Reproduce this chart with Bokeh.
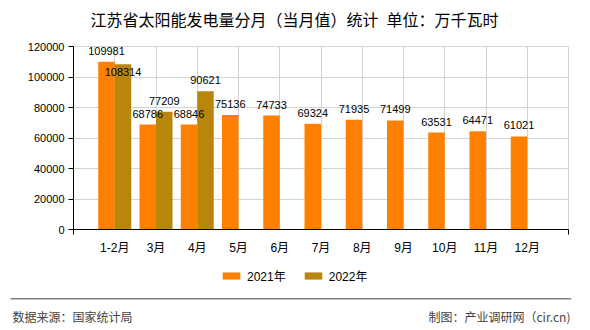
import numpy as np
from bokeh.plotting import figure
from bokeh.layouts import column
from bokeh.models import (ColumnDataSource, Range1d, FixedTicker, Legend, LegendItem)
from bokeh.core.properties import value
from bokeh.embed import file_html
from bokeh.resources import INLINE

# ---- data ----
months = ["1-2月", "3月", "4月", "5月", "6月", "7月", "8月", "9月", "10月", "11月", "12月"]
vals_2021 = [109981, 68786, 68846, 75136, 74733, 69324, 71935, 71499, 63531, 64471, 61021]
vals_2022 = [108314, 77209, 90621]
series_names = ["2021年", "2022年"]
y_ticks = [0, 20000, 40000, 60000, 80000, 100000, 120000]

title_text = "江苏省太阳能发电量分月（当月值）统计\u2002单位：万千瓦时"
source_text = "数据来源：国家统计局"
credit_text = "制图：产业调研网（cir.cn)"

C2021 = "#FF8000"
C2022 = "#B8860B"
NUM_FONT = "'Liberation Sans', 'Noto Sans CJK SC'"
CJK_FONT = "'Noto Sans CJK SC'"

W = 590
H_HEAD = 36
H_MAIN = 224
H_FOOT = 70

pos = np.arange(1, len(months) + 1)
bw = 0.4
x21 = pos - bw / 2
x22 = pos[:len(vals_2022)] + bw / 2

# label offsets: move a 2022 label below its bar top if it collides with the 2021 label
px_per_unit = 183.3 / 120000
off21 = [-7] * len(vals_2021)
off22 = [12 if abs(v - vals_2021[i]) * px_per_unit < 12 else -7 for i, v in enumerate(vals_2022)]

s21 = ColumnDataSource(dict(x=x21, top=vals_2021, lab=[str(v) for v in vals_2021], off=off21))
s22 = ColumnDataSource(dict(x=x22, top=vals_2022, lab=[str(v) for v in vals_2022], off=off22))


def blank_fig(h):
    b = figure(width=W, height=h, output_backend="svg", toolbar_location=None,
               x_range=Range1d(0, W), y_range=Range1d(h, 0),
               x_axis_type=None, y_axis_type=None, frame_align=False, title=None,
               min_border_left=0, min_border_right=0, min_border_top=0, min_border_bottom=0)
    b.outline_line_color = None
    b.background_fill_color = "white"
    b.border_fill_color = "white"
    b.grid.visible = False
    return b


# ---- header: title ----
hd = blank_fig(H_HEAD)
hd.text(x=[294], y=[18.5], text=[title_text], text_align="center", text_baseline="middle",
        text_font=value(CJK_FONT), text_font_size="16px", text_color="black")

# ---- main chart ----
p = figure(width=W, height=H_MAIN, output_backend="svg", toolbar_location=None, title=None,
           x_range=Range1d(0, len(months) + 1), y_range=Range1d(0, 120000),
           min_border_left=73, min_border_right=22, min_border_top=46 - H_HEAD,
           min_border_bottom=H_MAIN - (229 - H_HEAD), frame_align=False)
p.background_fill_color = "white"
p.border_fill_color = "white"
p.outline_line_color = "#d3d3d3"

p.vbar(x="x", top="top", width=bw, source=s21, fill_color=C2021, line_color=None)
p.vbar(x="x", top="top", width=bw, source=s22, fill_color=C2022, line_color=None)

for s in (s21, s22):
    p.text(x="x", y="top", text="lab", source=s, y_offset="off",
           text_align="center", text_baseline="bottom",
           text_font=value(NUM_FONT), text_font_size="11px", text_color="black")

p.xaxis.ticker = FixedTicker(ticks=list(pos), minor_ticks=[0, len(months) + 1])
p.xaxis.major_label_overrides = {int(k): m for k, m in zip(pos, months)}
p.xaxis.major_tick_out = 0
p.xaxis.major_tick_in = 0
p.xaxis.minor_tick_out = 5
p.xaxis.minor_tick_in = 0
p.xaxis.major_label_standoff = 6
p.xaxis.major_label_text_font = NUM_FONT
p.xaxis.major_label_text_font_size = "12px"
p.xaxis.major_label_text_color = "black"
p.xaxis.axis_line_color = "black"

p.yaxis.ticker = FixedTicker(ticks=y_ticks)
p.yaxis.major_tick_out = 5
p.yaxis.major_tick_in = 0
p.yaxis.minor_tick_line_color = None
p.yaxis.major_label_standoff = 4
p.yaxis.major_label_text_font = NUM_FONT
p.yaxis.major_label_text_font_size = "11px"
p.yaxis.major_label_text_color = "black"
p.yaxis.axis_line_color = "black"
p.yaxis.formatter.use_scientific = False

p.xgrid.grid_line_color = "#d3d3d3"
p.ygrid.grid_line_color = "#d3d3d3"

# ---- footer: legend, separator, source texts (coordinates in pixels) ----
f = blank_fig(H_FOOT)

# hidden renderers (same data) that only serve as legend glyphs
d21 = f.vbar(x="x", top="top", width=bw, source=s21, fill_color=C2021, line_color=None, visible=False)
d22 = f.vbar(x="x", top="top", width=bw, source=s22, fill_color=C2022, line_color=None, visible=False)
legend = Legend(items=[LegendItem(label=series_names[0], renderers=[d21]),
                       LegendItem(label=series_names[1], renderers=[d22])],
                orientation="horizontal", location=(220, 46),
                glyph_width=22, glyph_height=9, label_standoff=5, spacing=16,
                padding=0, margin=0, border_line_color=None, background_fill_alpha=0,
                label_text_font=NUM_FONT, label_text_font_size="12px",
                label_text_color="black", label_height=12)
f.add_layout(legend, "center")

f.segment(x0=[10], y0=[38.3], x1=[570.7], y1=[38.3], line_color="#808080", line_width=1.5)

f.text(x=[12], y=[56], text=[source_text], text_align="left", text_baseline="middle",
       text_font=value(CJK_FONT), text_font_size="12px", text_color="#444444")
f.text(x=[570], y=[56], text=[credit_text], text_align="right", text_baseline="middle",
       text_font=value(CJK_FONT), text_font_size="12px", text_color="#444444")

layout = column(hd, p, f, spacing=0)
open("out.html", "w").write(file_html(layout, INLINE))
